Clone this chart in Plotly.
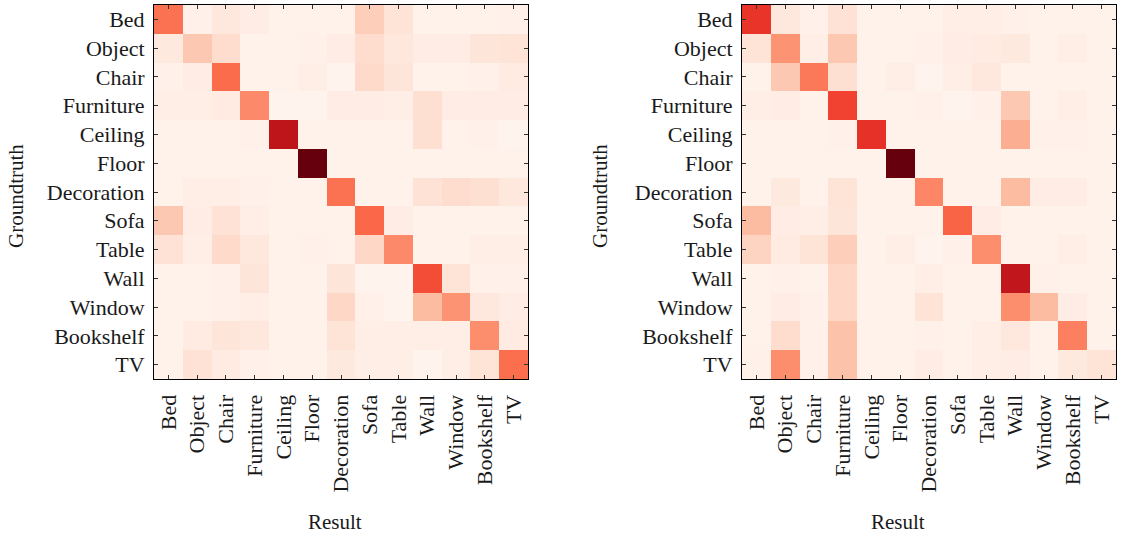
import plotly.graph_objects as go

classes = ["Bed", "Object", "Chair", "Furniture", "Ceiling", "Floor", "Decoration",
           "Sofa", "Table", "Wall", "Window", "Bookshelf", "TV"]

# Row = groundtruth class, column = predicted class (left model)
conf_left = [
    [0.46, 0.03, 0.08, 0.05, 0.02, 0.02, 0.02, 0.18, 0.10, 0.02, 0.02, 0.02, 0.03],
    [0.07, 0.20, 0.13, 0.02, 0.02, 0.03, 0.05, 0.13, 0.08, 0.05, 0.05, 0.09, 0.10],
    [0.03, 0.05, 0.48, 0.02, 0.02, 0.04, 0.01, 0.14, 0.09, 0.02, 0.02, 0.03, 0.06],
    [0.04, 0.04, 0.06, 0.39, 0.01, 0.01, 0.05, 0.05, 0.04, 0.12, 0.05, 0.05, 0.05],
    [0.02, 0.02, 0.02, 0.03, 0.77, 0.02, 0.02, 0.02, 0.02, 0.12, 0.02, 0.03, 0.01],
    [0.02, 0.02, 0.02, 0.02, 0.02, 0.97, 0.02, 0.02, 0.02, 0.02, 0.02, 0.02, 0.02],
    [0.02, 0.04, 0.04, 0.03, 0.02, 0.02, 0.46, 0.02, 0.02, 0.11, 0.13, 0.12, 0.08],
    [0.20, 0.05, 0.11, 0.04, 0.02, 0.02, 0.02, 0.49, 0.05, 0.02, 0.02, 0.02, 0.02],
    [0.11, 0.04, 0.14, 0.08, 0.02, 0.03, 0.02, 0.15, 0.39, 0.02, 0.02, 0.04, 0.04],
    [0.02, 0.02, 0.03, 0.09, 0.02, 0.02, 0.09, 0.01, 0.01, 0.56, 0.10, 0.03, 0.03],
    [0.02, 0.02, 0.03, 0.04, 0.02, 0.02, 0.15, 0.03, 0.01, 0.24, 0.36, 0.08, 0.05],
    [0.02, 0.06, 0.09, 0.08, 0.02, 0.02, 0.10, 0.04, 0.04, 0.04, 0.04, 0.38, 0.06],
    [0.02, 0.11, 0.06, 0.03, 0.02, 0.02, 0.07, 0.04, 0.04, 0.01, 0.04, 0.10, 0.47],
]

# Row = groundtruth class, column = predicted class (right model)
conf_right = [
    [0.63, 0.08, 0.03, 0.11, 0.02, 0.02, 0.02, 0.04, 0.04, 0.03, 0.02, 0.02, 0.02],
    [0.10, 0.36, 0.04, 0.20, 0.02, 0.02, 0.03, 0.05, 0.06, 0.07, 0.02, 0.04, 0.02],
    [0.02, 0.20, 0.44, 0.12, 0.02, 0.04, 0.01, 0.04, 0.08, 0.02, 0.02, 0.02, 0.02],
    [0.04, 0.05, 0.02, 0.59, 0.02, 0.02, 0.03, 0.01, 0.03, 0.20, 0.02, 0.04, 0.02],
    [0.02, 0.02, 0.02, 0.03, 0.64, 0.02, 0.02, 0.02, 0.02, 0.28, 0.03, 0.03, 0.02],
    [0.02, 0.02, 0.02, 0.02, 0.02, 0.97, 0.02, 0.02, 0.02, 0.02, 0.02, 0.02, 0.02],
    [0.02, 0.07, 0.02, 0.10, 0.02, 0.02, 0.40, 0.02, 0.02, 0.24, 0.05, 0.05, 0.02],
    [0.24, 0.05, 0.04, 0.09, 0.02, 0.02, 0.02, 0.50, 0.05, 0.02, 0.02, 0.02, 0.02],
    [0.16, 0.06, 0.10, 0.18, 0.02, 0.04, 0.01, 0.03, 0.38, 0.02, 0.02, 0.04, 0.02],
    [0.02, 0.03, 0.02, 0.15, 0.02, 0.02, 0.04, 0.02, 0.02, 0.76, 0.03, 0.02, 0.02],
    [0.02, 0.05, 0.03, 0.15, 0.02, 0.02, 0.10, 0.02, 0.02, 0.38, 0.24, 0.05, 0.02],
    [0.02, 0.13, 0.03, 0.22, 0.02, 0.02, 0.03, 0.02, 0.04, 0.08, 0.02, 0.42, 0.02],
    [0.03, 0.38, 0.03, 0.22, 0.02, 0.02, 0.05, 0.02, 0.04, 0.05, 0.02, 0.07, 0.10],
]

reds = ["#fff5f0", "#fee0d2", "#fcbba1", "#fc9272", "#fb6a4a",
        "#ef3b2c", "#cb181d", "#a50f15", "#67000d"]
colorscale = [[i / (len(reds) - 1), c] for i, c in enumerate(reds)]

W, H = 1121, 536
TOP, BOTTOM = 5, 157
PLOT_H = H - TOP - BOTTOM
FONT = "'Liberation Serif', 'Times New Roman', Times, serif"
TXT = "#1a1a1a"

fig = go.Figure()
for k, z in enumerate([conf_left, conf_right]):
    fig.add_trace(go.Heatmap(
        z=z, x=classes, y=classes,
        colorscale=colorscale, zmin=0, zmax=0.97,
        showscale=False, xgap=0, ygap=0,
        xaxis="x" if k == 0 else "x2",
        yaxis="y" if k == 0 else "y2",
        hoverinfo="skip",
    ))

axis_common = dict(
    showline=True, linecolor="black", linewidth=1, mirror="ticks",
    ticks="inside", ticklen=4, tickwidth=1, tickcolor="#333",
    showgrid=False, zeroline=False,
    tickfont=dict(family=FONT, size=22, color=TXT),
)

fig.update_layout(
    width=W, height=H,
    margin=dict(l=0, r=0, t=TOP, b=BOTTOM),
    paper_bgcolor="white", plot_bgcolor="white",
    font=dict(family=FONT, size=22, color=TXT),
    xaxis=dict(domain=[154 / W, 528 / W], tickangle=-90, anchor="y",
               ticklabelstandoff=6, **axis_common),
    yaxis=dict(domain=[0, 1], autorange="reversed", anchor="x",
               ticklabelstandoff=4, **axis_common),
    xaxis2=dict(domain=[742 / W, 1116 / W], tickangle=-90, anchor="y2",
                ticklabelstandoff=6, **axis_common),
    yaxis2=dict(domain=[0, 1], autorange="reversed", anchor="x2",
                ticklabelstandoff=4, **axis_common),
)


def py(pix):
    """Pixel row in the page -> paper y coordinate."""
    return (H - BOTTOM - pix) / PLOT_H


# Axis titles
for xc, gx in [(335, 16), (898, 600)]:
    fig.add_annotation(text="Result", x=xc / W, y=py(522),
                       xref="paper", yref="paper", showarrow=False,
                       xanchor="center", yanchor="middle",
                       font=dict(family=FONT, size=21, color=TXT))
    fig.add_annotation(text="Groundtruth", x=gx / W, y=py(196),
                       xref="paper", yref="paper", showarrow=False,
                       textangle=-90, xanchor="center", yanchor="middle",
                       font=dict(family=FONT, size=21, color=TXT))

fig.write_html("out.html")
